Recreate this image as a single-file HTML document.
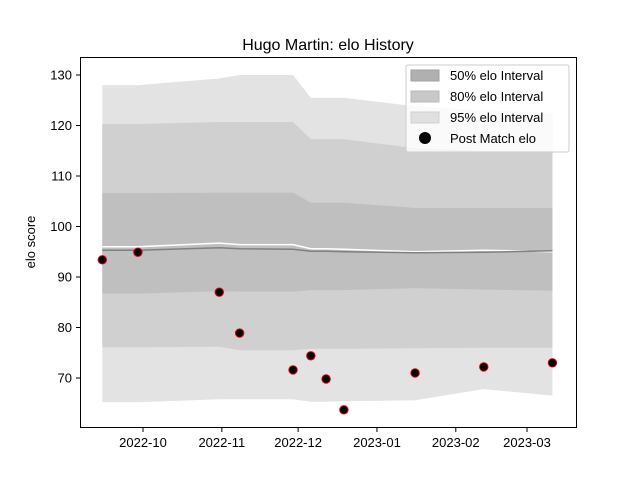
<!DOCTYPE html>
<html><head><meta charset="utf-8"><style>
body{margin:0;background:#fff}
svg{font-family:"Liberation Sans","DejaVu Sans",sans-serif}
</style></head><body>
<svg id="c" width="640" height="480">
<rect width="640" height="480" fill="#fff"/>
<g id="bands"></g><g id="marks"></g><g id="axes"></g>
<text x="328" y="50" text-anchor="middle" font-size="16">Hugo Martin: elo History</text>
<text transform="translate(35,242) rotate(-90)" text-anchor="middle" font-size="13">elo score</text>
<g>
<rect x="406" y="65" width="163" height="87" fill="#fff" fill-opacity="0.8" stroke="#ccc" rx="2"/>
<rect x="411" y="70" width="28" height="11" fill="#b0b0b0" stroke="#a0a0a0"/>
<text x="450" y="80" font-size="13">50% elo Interval</text>
<rect x="411" y="91" width="28" height="11" fill="#c8c8c8" stroke="#b8b8b8"/>
<text x="450" y="101" font-size="13">80% elo Interval</text>
<rect x="411" y="112" width="28" height="11" fill="#e0e0e0" stroke="#d0d0d0"/>
<text x="450" y="122" font-size="13">95% elo Interval</text>
<circle cx="425" cy="138" r="6" fill="#000"/>
<text x="450" y="143" font-size="13">Post Match elo</text>
</g>
</svg>
<script>
const dates=["2022-09-15","2022-09-29","2022-10-31","2022-11-08","2022-11-29","2022-12-06","2022-12-12","2022-12-19","2023-01-16","2023-02-12","2023-03-11"];
const postElo=[93.4,94.9,87.0,78.9,71.6,74.4,69.8,63.7,71.0,72.2,73.0];
const meanElo=[95.3,95.3,95.8,95.6,95.5,95.1,95.1,95.0,94.8,94.9,95.2];
const preElo=[96.0,96.0,96.7,96.4,96.4,95.6,95.6,95.5,95.0,95.3,95.0];
const lo50=[86.7,86.7,87.2,87.1,87.1,87.4,87.4,87.4,87.8,87.5,87.3];
const hi50=[106.6,106.6,106.7,106.7,106.7,104.7,104.7,104.7,103.7,103.7,103.7];
const lo80=[76.1,76.1,76.2,75.5,75.5,75.8,75.8,75.8,75.9,76.0,76.0];
const hi80=[120.3,120.3,120.7,120.7,120.7,117.3,117.3,117.3,115.5,115.0,115.0];
const lo95=[65.2,65.2,65.8,65.8,65.8,65.3,65.3,65.4,65.6,67.8,66.5];
const hi95=[128.0,128.0,129.3,130.0,130.0,125.5,125.5,125.5,123.8,123.0,122.5];
const yTicks=[70,80,90,100,110,120,130];
const xTicks=["2022-10","2022-11","2022-12","2023-01","2023-02","2023-03"];
const NS="http://www.w3.org/2000/svg";
const t0=Date.UTC(2022,9,1);
function X(d){const p=d.split("-").map(Number);const t=Date.UTC(p[0],p[1]-1,p[2]||1);return 143+(t-t0)/864e5*2.543;}
function Y(v){return 75+(130-v)*5.05;}
function el(tag,attrs,parent){const e=document.createElementNS(NS,tag);for(const k in attrs)e.setAttribute(k,attrs[k]);parent.appendChild(e);return e;}
const bands=document.getElementById("bands"),marks=document.getElementById("marks"),axes=document.getElementById("axes");
function band(lo,hi,fill,name){
 let d="M"+dates.map((dt,i)=>X(dt)+","+Y(hi[i])).join("L");
 for(let i=dates.length-1;i>=0;i--)d+="L"+X(dates[i])+","+Y(lo[i]);
 const p=el("path",{d:d+"Z",fill:fill},bands);
 
 
}
band(lo95,hi95,"#e3e3e3","band-95");
band(lo80,hi80,"#d0d0d0","band-80");
band(lo50,hi50,"#bfbfbf","band-50");
function line(vals,stroke,name){
 const p=el("polyline",{points:dates.map((d,i)=>X(d)+","+Y(vals[i])).join(" "),fill:"none",stroke:stroke,"stroke-width":1.5},marks);
 
 
}
line(preElo,"#ffffff","pre-match-line");
line(meanElo,"#808080","mean-elo-line");
postElo.forEach((v,i)=>{
 const c=el("circle",{cx:X(dates[i]),cy:Y(v),r:4.2,fill:"#000",stroke:"#e00000","stroke-width":1},marks);
 
 
});
const fr=el("rect",{x:80.5,y:57.5,width:496,height:370,fill:"none",stroke:"#000","stroke-width":1},axes);


yTicks.forEach(v=>{
 const y=Y(v);
 el("line",{x1:76,x2:80.5,y1:y,y2:y,stroke:"#000"},axes);
 const t=el("text",{x:72,y:y+4.5,"text-anchor":"end","font-size":13},axes);
 t.textContent=v;
 
 
});
xTicks.forEach(s=>{
 const x=X(s);
 el("line",{x1:x,x2:x,y1:427.5,y2:432,stroke:"#000"},axes);
 const t=el("text",{x:x,y:447,"text-anchor":"middle","font-size":13},axes);
 t.textContent=s;
 
 
});
</script>
</body></html>
